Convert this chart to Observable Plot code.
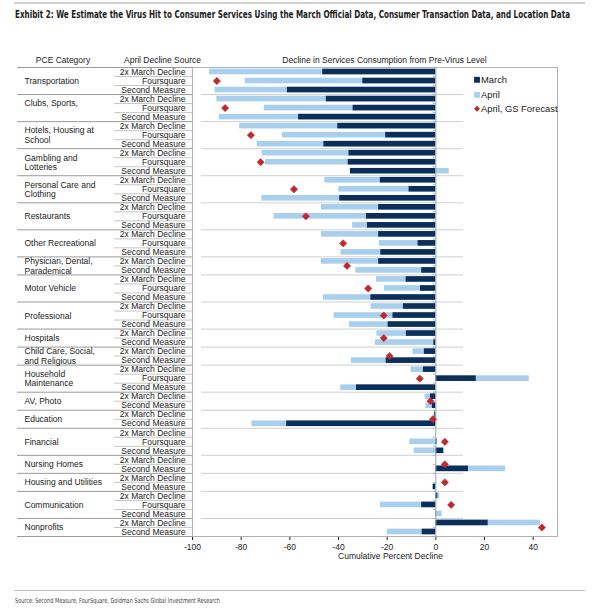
<!DOCTYPE html>
<html>
<head>
<meta charset="utf-8">
<script src="https://cdn.jsdelivr.net/npm/d3@7"></script>
<script src="https://cdn.jsdelivr.net/npm/@observablehq/plot@0.6"></script>
<style>
  html, body { margin: 0; padding: 0; background: #fff; }
  #page { position: relative; width: 600px; height: 608px; overflow: hidden; font-family: "Liberation Sans", Arial, sans-serif; }
  .rule { position: absolute; left: 14px; width: 571px; height: 2px; background: #d0d0d0; }
  #title { position: absolute; left: 15px; top: 8px; font-family: "Liberation Sans Narrow", "DejaVu Sans Condensed", sans-serif; font-weight: bold; font-size: 10.5px; color: #1a1a1a; white-space: nowrap; transform-origin: 0 0; }
  #chart { position: absolute; left: 0; top: 30px; }
  #source { position: absolute; left: 15px; top: 597px; font-family: "Liberation Sans Narrow", "DejaVu Sans Condensed", sans-serif; font-size: 7px; color: #444; white-space: nowrap; transform-origin: 0 0; }
</style>
</head>
<body>
<div id="page">
  <div class="rule" style="top:2px"></div>
  <div id="title">Exhibit 2: We Estimate the Virus Hit to Consumer Services Using the March Official Data, Consumer Transaction Data, and Location Data</div>
  <div id="chart"></div>
  <div class="rule" style="top:590px;height:1px;background:#bbb"></div>
  <div id="source">Source: Second Measure, FourSquare, Goldman Sachs Global Investment Research</div>
</div>
<script>
// ---------------- data ----------------
const categories = [
  "Transportation", "Clubs, Sports,\n", "Hotels, Housing at\nSchool", "Gambling and\nLotteries",
  "Personal Care and\nClothing", "Restaurants", "Other Recreational", "Physician, Dental,\nParademical",
  "Motor Vehicle", "Professional", "Hospitals", "Child Care, Social,\nand Religious",
  "Household\nMaintenance", "AV, Photo", "Education", "Financial",
  "Nursing Homes", "Housing and Utilities", "Communication", "Nonprofits"
];
const S3 = ["2x March Decline", "Foursquare", "Second Measure"];
const S2 = ["2x March Decline", "Second Measure"];
const categorySources = [S3, S3, S3, S3, S3, S3, S3, S2, S3, S3, S2, S2, S3, S2, S2, S3, S2, S2, S3, S2];

const march = [
  -46.5, -30, -61,
  -45, -34, -56.4,
  -40.3, -20.6, -46,
  -35.7, -36, -35.1,
  -22.8, -11, -39.5,
  -23.5, -28.5, -28.1,
  -23.5, -7.3, -22.6,
  -23.5, -5.8,
  -12.2, -6.3, -26.7,
  -13.3, -17.6, -19.6,
  -12.1, -0.8,
  -4.7, -20.4,
  -5.1, 16.6, -32.6,
  -2.2, -1.4,
  -0.4, -61.3,
  0, 0.5, 3.3,
  0, 13.4,
  0, -1.1,
  0.8, -5.8, 0.2,
  21.5, -5.6
];
const april = [
  -93, -78.3, -90.7,
  -90, -70.5, -88.9,
  -80.6, -63, -73.4,
  -71.4, -70, 5.5,
  -45.6, -39.9, -71.5,
  -47, -66.5, -34.2,
  -47, -23.2, -39,
  -47, -32.9,
  -24.4, -21.1, -46.2,
  -26.6, -41.8, -35.5,
  -24.2, -24.8,
  -9.4, -34.7,
  -10.2, 38.4, -39.1,
  -4.4, -4.1,
  -0.8, -75.6,
  0, -10.7, -8.9,
  0, 28.7,
  0, -1,
  1.6, -22.8, 2.6,
  43, -19.9
];
const forecast = [
  -90, -86.6, -76, -72, -58.3, -53.4, -38.1, -36.5, -27.8, -21.4,
  -21.4, -19, -6.6, -2.2, -1.2, 3.7, 3.7, 3.7, 6.3, 43.6
];
const xTicks = [-100, -80, -60, -40, -20, 0, 20, 40];
const headers = ["PCE Category", "April Decline Source", "Decline in Services Consumption from Pre-Virus Level"];
const legendLabels = ["March", "April", "April, GS Forecast"];
const xLabel = "Cumulative Percent Decline";

// ---------------- derived tables ----------------
const rows = [];
const cats = [];
let k = 0;
categories.forEach((c, ci) => {
  const start = k;
  categorySources[ci].forEach(s => {
    rows.push({ i: k, source: s, march: march[k], april: april[k], first: k === start });
    k++;
  });
  cats.push({ label: c, start, end: k, mid: (start + k) / 2, forecast: forecast[ci] });
});
const nRows = rows.length;
const catBounds = [0, ...cats.map(c => c.end)];
const subBounds = rows.filter(r => !r.first).map(r => r.i);

// ---------------- layout ----------------
const W = 600, H = 535, MT = 37, MB = 29, ML = 192, MR = 43;
const xs = d3.scaleLinear([-100, 50], [ML, W - MR]);
const ys = d3.scaleLinear([0, nRows], [MT, H - MB]);
const X = px => xs.invert(px);
const Y = py => ys.invert(py);

const DARK = "#0c2f59", LIGHT = "#a9cfee", RED = "#c1272d";
const FONT = "Liberation Sans, Arial, sans-serif";

const chart = Plot.plot({
  width: W, height: H,
  marginTop: MT, marginBottom: MB, marginLeft: ML, marginRight: MR,
  style: { fontFamily: FONT, fontSize: "8.5px", color: "#222", background: "#fff" },
  x: { domain: [-100, 50], range: [ML, W - MR], ticks: xTicks, tickSize: 4, tickPadding: 3, label: null, tickFormat: d => String(d) },
  y: { domain: [0, nRows], range: [MT, H - MB], axis: null },
  marks: [
    Plot.ruleY(catBounds.slice(1, -1), { x1: X(201), x2: X(463), stroke: "#c4c4c4", strokeWidth: 0.8 }),
    Plot.ruleY(catBounds, { x1: X(17), x2: X(192), stroke: "#9a9a9a", strokeWidth: 1 }),
    Plot.ruleY(subBounds, { x1: X(114), x2: X(192), stroke: "#b8b8b8", strokeWidth: 0.8 }),
    Plot.frame({ stroke: "#b0b0b0" }),
    Plot.rectX(rows, { x1: 0, x2: "april", y1: d => d.i + 0.19, y2: d => d.i + 0.81, fill: LIGHT }),
    Plot.rectX(rows, { x1: 0, x2: "march", y1: d => d.i + 0.19, y2: d => d.i + 0.81, fill: DARK }),
    Plot.ruleX([0], { stroke: "#97a7ba", strokeWidth: 1 }),
    Plot.ruleY(d3.range(0, nRows + 1), { x1: -1, x2: 0, stroke: "#97a7ba", strokeWidth: 0.8 }),
    Plot.dot(cats, { x: "forecast", y: "mid", symbol: "diamond2", r: 3.3, fill: RED, stroke: RED, strokeWidth: 0.5 }),
    Plot.text(cats, { x: X(24), y: "mid", text: "label", textAnchor: "start", lineHeight: 1.1, fontSize: 8.5, fill: "#222" }),
    Plot.text(rows, { x: X(185), y: d => d.i + 0.5, text: "source", textAnchor: "end", fontSize: 8.5, fill: "#222" }),
    Plot.text(headers, { x: (d, i) => X([62.5, 162, 384][i]), y: Y(30), text: d => d, fontSize: 8.5, fill: "#222" }),
    Plot.text([xLabel], { x: X(390), y: Y(526), text: d => d, fontSize: 8.5, fill: "#222" }),
    Plot.dot(legendLabels, { x: X(476.5), y: (d, i) => Y([49.3, 64.3, 78.3][i]), symbol: (d, i) => i < 2 ? "square" : "diamond2", r: (d, i) => i < 2 ? 2.8 : 1.8, fill: (d, i) => [DARK, LIGHT, RED][i] }),
    Plot.text(legendLabels, { x: X(480.5), y: (d, i) => Y([49.3, 64.3, 78.3][i]), text: d => d, textAnchor: "start", fontSize: 9.4, fill: "#222" })
  ]
});
document.getElementById("chart").appendChild(chart);

// fit condensed title / source lines to their widths in the reference
function fitWidth(id, target) {
  const el = document.getElementById(id);
  const w = el.getBoundingClientRect().width;
  if (w > 0) el.style.transform = `scaleX(${target / w})`;
}
fitWidth("title", 555);
fitWidth("source", 205);
</script>
</body>
</html>
